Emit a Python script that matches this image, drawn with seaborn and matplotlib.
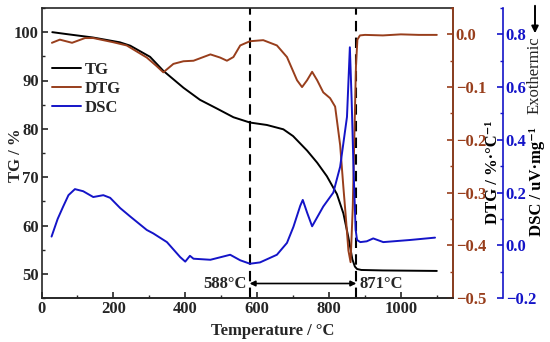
import seaborn as sns
import matplotlib.pyplot as plt
import matplotlib.ticker as mticker
from matplotlib.patches import FancyArrowPatch
import pandas as pd

# TG curve (%)
tg_temp = [30, 70, 143, 218, 247, 302, 339, 395, 441, 488, 534, 580, 627, 673, 700,
           739, 767, 794, 822, 840, 854, 865, 872, 878, 890, 950, 1100]
tg_val = [100, 99.6, 98.9, 97.9, 97.2, 94.9, 92.0, 88.5, 86.0, 84.2, 82.4, 81.3, 80.8, 79.9, 78.5,
          75.5, 73.0, 70.2, 66.5, 62.5, 57.5, 53.0, 51.5, 51.0, 50.8, 50.7, 50.6]

# DTG curve (%/°C)
dtg_temp = [29, 51, 85, 121, 144, 200, 237, 293, 320, 339, 367, 395, 423, 470, 497, 516,
            534, 553, 580, 617, 655, 683, 711, 725, 739, 753, 767, 784, 803, 817, 831,
            840, 846, 854, 860, 866, 871, 875, 879, 886, 900, 950, 1000, 1050, 1100]
dtg_val = [-0.016, -0.010, -0.016, -0.007, -0.007, -0.015, -0.021, -0.044, -0.060, -0.072,
           -0.056, -0.051, -0.050, -0.038, -0.044, -0.050, -0.043, -0.021, -0.013, -0.011,
           -0.021, -0.043, -0.087, -0.100, -0.087, -0.071, -0.087, -0.110, -0.121, -0.137,
           -0.210, -0.290, -0.340, -0.410, -0.432, -0.330, -0.180, -0.060, -0.010, -0.002,
           -0.001, -0.002, 0.0, -0.001, -0.001]

# DSC curve (uV/mg)
dsc_temp = [28, 45, 60, 75, 93, 116, 144, 172, 191, 219, 247, 293, 311, 349, 386, 400, 413,
            423, 470, 525, 553, 580, 608, 655, 683, 701, 720, 727, 739, 753, 784, 812, 831,
            850, 858, 863, 868, 874, 878, 887, 905, 923, 951, 1025, 1095]
dsc_val = [0.033, 0.100, 0.146, 0.190, 0.213, 0.205, 0.183, 0.190, 0.180, 0.141, 0.109,
           0.058, 0.045, 0.012, -0.045, -0.062, -0.040, -0.051, -0.055, -0.036, -0.057,
           -0.070, -0.065, -0.036, 0.009, 0.070, 0.150, 0.172, 0.124, 0.072, 0.147, 0.200,
           0.298, 0.487, 0.751, 0.550, 0.300, 0.060, 0.020, 0.012, 0.015, 0.026, 0.012,
           0.020, 0.029]

# marked temperatures (line positions as drawn, labels as printed)
mark_pos = [579, 876]
mark_text = ["588°C", "871°C"]

tg_df = pd.DataFrame({"T": tg_temp, "v": tg_val})
dtg_df = pd.DataFrame({"T": dtg_temp, "v": dtg_val})
dsc_df = pd.DataFrame({"T": dsc_temp, "v": dsc_val})

c_dtg = "#983E1C"
c_dsc = "#1414C8"
fs = 12

sns.set_style("ticks")
plt.rcParams["font.family"] = ["Liberation Serif", "DejaVu Serif"]
plt.rcParams["font.weight"] = "bold"
plt.rcParams["axes.labelweight"] = "bold"
plt.rcParams["font.size"] = fs
plt.rcParams["axes.linewidth"] = 1.2

fig = plt.figure(figsize=(5.5, 3.42), dpi=100)
ax = fig.add_axes([41.5 / 550, 1 - 298 / 342, 411.5 / 550, 290 / 342])
ax2 = ax.twinx()
ax3 = ax.twinx()
ax3.spines["right"].set_position(("outward", 36))

sns.lineplot(data=tg_df, x="T", y="v", ax=ax, color="black", lw=1.4, estimator=None, legend=False)
sns.lineplot(data=dtg_df, x="T", y="v", ax=ax2, color=c_dtg, lw=1.4, estimator=None, legend=False)
sns.lineplot(data=dsc_df, x="T", y="v", ax=ax3, color=c_dsc, lw=1.4, estimator=None, legend=False)

ax.set_xlim(0, 1145)
ax.set_ylim(45, 105)
ax2.set_ylim(-0.5, 0.05)
ax3.set_ylim(-0.2, 0.9)

ax.xaxis.set_major_locator(mticker.MultipleLocator(200))
ax.xaxis.set_minor_locator(mticker.MultipleLocator(100))
ax.yaxis.set_major_locator(mticker.MultipleLocator(10))
ax.yaxis.set_minor_locator(mticker.MultipleLocator(5))
ax2.yaxis.set_major_locator(mticker.MultipleLocator(0.1))
ax2.yaxis.set_minor_locator(mticker.MultipleLocator(0.05))
ax3.yaxis.set_major_locator(mticker.FixedLocator([-0.2, 0.0, 0.2, 0.4, 0.6, 0.8]))
ax3.yaxis.set_minor_locator(mticker.MultipleLocator(0.1))
fmt = mticker.FuncFormatter(lambda v, p: f"{v:.1f}".replace("-", "\u2212"))
ax2.yaxis.set_major_formatter(fmt)
ax3.yaxis.set_major_formatter(fmt)

for a in (ax, ax2, ax3):
    a.tick_params(which="major", direction="in", length=4, width=1.2, labelsize=fs, pad=2)
    a.tick_params(which="minor", direction="in", length=2, width=1.0)
ax.tick_params(axis="x", which="both", top=False)

ax2.spines["right"].set_color(c_dtg)
ax2.tick_params(axis="y", which="both", colors=c_dtg)
ax3.spines["right"].set_color(c_dsc)
ax3.tick_params(axis="y", which="both", colors=c_dsc)
for a in (ax2, ax3):
    a.spines["top"].set_visible(False)
    a.spines["left"].set_visible(False)
ax3.spines["bottom"].set_visible(False)

ax.set_xlabel("Temperature / °C", fontsize=fs)
ax.xaxis.set_label_coords(0.563, -0.085)
ax.set_ylabel("TG / %", fontsize=fs)
ax.yaxis.set_label_coords(-0.043, 0.493)
ax2.set_ylabel("DTG / %·°C\u207b\u00b9", fontsize=fs, color="black")
ax2.yaxis.set_label_coords(1.078, 0.434)
ax3.set_ylabel("DSC / uV·mg\u207b\u00b9", fontsize=fs, color="black")
ax3.yaxis.set_label_coords(1.185, 0.40)

# marked interval
for xm in mark_pos:
    ax.axvline(xm, color="black", lw=1.5, ls=(0, (5, 3)))
ax.annotate("", xy=(mark_pos[0], 48.0), xytext=(mark_pos[1], 48.0),
            arrowprops=dict(arrowstyle="<|-|>", color="black", lw=1.2,
                            shrinkA=0, shrinkB=0, mutation_scale=8))
ax.text(mark_pos[0] - 7, 48.0, mark_text[0], ha="right", va="center", fontsize=fs)
ax.text(mark_pos[1] + 8, 48.0, mark_text[1], ha="left", va="center", fontsize=fs)

# exothermic direction
fig.text(535 / 550, 1 - 75.5 / 342, "Exothermic", rotation=90, ha="center", va="center",
         fontsize=fs, fontweight="normal")
fig.patches.append(FancyArrowPatch(
    (535 / 550, 1 - 3 / 342), (535 / 550, 1 - 36 / 342), transform=fig.transFigure,
    arrowstyle="-|>", mutation_scale=10, color="black", lw=1.4))

handles = [ax.lines[0], ax2.lines[0], ax3.lines[0]]
ax3.legend(handles, ["TG", "DTG", "DSC"], loc="upper left", bbox_to_anchor=(0.0255, 0.815),
           frameon=False, borderaxespad=0, borderpad=0, handlelength=1.75,
           handletextpad=0.2, labelspacing=0.2, prop={"weight": "bold", "size": fs})

fig.savefig("out.png", dpi=100)
